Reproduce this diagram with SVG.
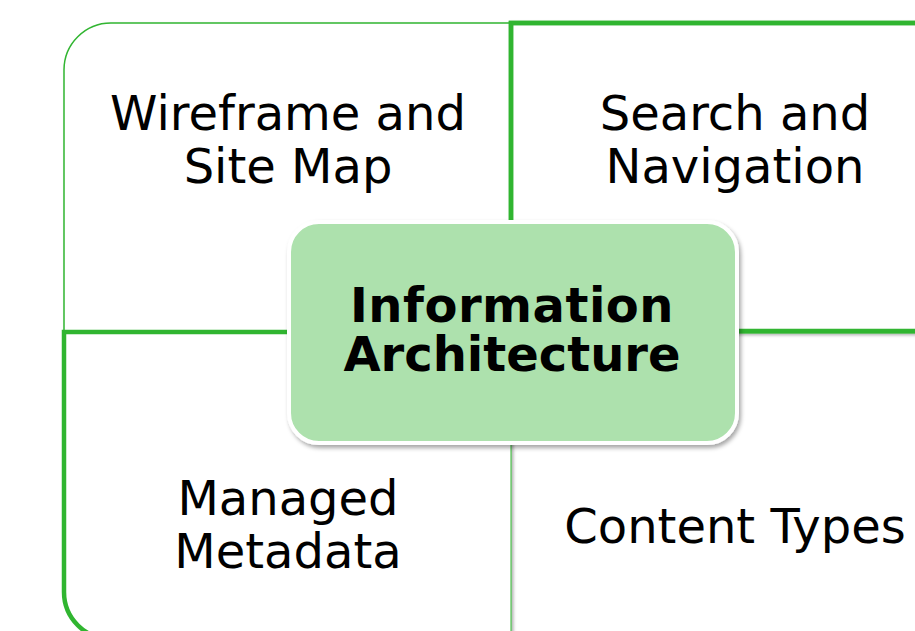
<svg xmlns="http://www.w3.org/2000/svg" width="915" height="631" viewBox="0 0 915 631">
<defs>
<filter id="sh" x="-10%" y="-10%" width="130%" height="130%">
<feDropShadow dx="2" dy="2" stdDeviation="1.5" flood-color="#000" flood-opacity="0.3"/>
</filter>
<filter id="sh2" x="-10%" y="-10%" width="130%" height="130%">
<feDropShadow dx="2" dy="3" stdDeviation="2" flood-color="#000" flood-opacity="0.35"/>
</filter>
</defs>
<style>
.q{fill:#fff;stroke:#30b530}
.t{font-family:"DejaVu Sans",Verdana,sans-serif;font-size:48px;fill:#000;text-anchor:middle}
.b{font-weight:bold;font-size:48px}
</style>
<rect width="915" height="631" fill="#fff"/>
<g id="connectors">
<path class="q" d="M64,331 V70 A47,47 0 0 1 111,23 H511 V331 Z" stroke-width="1.5" filter="url(#sh)"/>
<path class="q" d="M511,331 V23 H930 V331 Z" stroke-width="4.5" stroke="none" filter="url(#sh)"/>
<path d="M511,331 V23 H930" fill="none" stroke="#30b530" stroke-width="4.5"/>
<path class="q" d="M511,332 H64 V592 A47,47 0 0 0 111,639 H511 Z" stroke="none" filter="url(#sh)"/>
<path d="M511,332 H64 V592 A47,47 0 0 0 111,639" fill="none" stroke="#30b530" stroke-width="4.5"/>
<line x1="511" y1="332" x2="930" y2="332" stroke="#30b530" stroke-width="3"/>
<line x1="511" y1="332" x2="511" y2="640" stroke="#30b530" stroke-width="2.5" filter="url(#sh)"/>
</g>
<g id="wireframe"><text class="t" x="288" y="130">Wireframe and</text><text class="t" x="288" y="183">Site Map</text></g>
<g id="search"><text class="t" x="735" y="130">Search and</text><text class="t" x="735" y="183">Navigation</text></g>
<g id="metadata"><text class="t" x="288" y="515">Managed</text><text class="t" x="288" y="568">Metadata</text></g>
<g id="content"><text class="t" x="735" y="543">Content Types</text></g>
<g id="center">
<rect x="289" y="222" width="448" height="221" rx="30" fill="#ade1ad" stroke="#fff" stroke-width="4" filter="url(#sh2)"/>
<text class="t b" x="512" y="322" letter-spacing="0.5">Information</text>
<text class="t b" x="512" y="371">Architecture</text>
</g>
</svg>
